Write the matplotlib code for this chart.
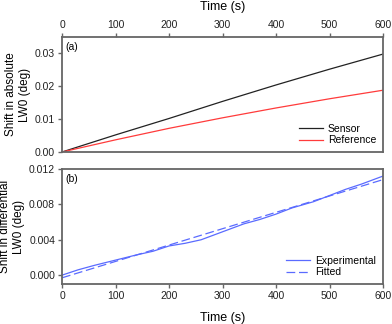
import matplotlib
matplotlib.use("Agg")
import matplotlib.pyplot as plt

plt.rcParams['font.family'] = ['Liberation Sans', 'DejaVu Sans']

# Panel (a)
t_a = [0, 100, 200, 300, 400, 500, 600]
sensor = [0.0, 0.0052, 0.0102, 0.0154, 0.0204, 0.0252, 0.0298]
reference = [0.0, 0.0037, 0.0072, 0.0104, 0.0134, 0.0162, 0.0188]

# Panel (b)
t_exp = [0, 30, 60, 100, 140, 170, 200, 230, 260, 300, 340, 370, 400, 430, 470, 500, 530, 560, 600]
experimental = [0.0000, 0.0006, 0.0011, 0.0017, 0.0023, 0.0027, 0.0033, 0.0036, 0.0040,
                0.0049, 0.0058, 0.0063, 0.0069, 0.0076, 0.0083, 0.0090, 0.0097, 0.0103, 0.0112]
t_fit = [0, 600]
fitted = [-0.0003, 0.0108]

xticks = [0, 100, 200, 300, 400, 500, 600]
yticks_a = [0.00, 0.01, 0.02, 0.03]
yticks_b = [0.000, 0.004, 0.008, 0.012]

W, H = 392, 324
fig = plt.figure(figsize=(W / 100, H / 100), dpi=100)
L, R = 62, 383
ax1 = fig.add_axes([L / W, 1 - 152 / H, (R - L) / W, (152 - 37) / H])
ax2 = fig.add_axes([L / W, 1 - 284 / H, (R - L) / W, (284 - 169) / H])

spine_c = '#666666'
tick_fs = 7.5
lab_fs = 8.5

for ax in (ax1, ax2):
    for s in ax.spines.values():
        s.set_color(spine_c)
        s.set_linewidth(1.3)
    ax.tick_params(colors=spine_c, labelcolor='#222222', labelsize=tick_fs, width=1,
                   length=3, pad=2)
    ax.set_xlim(0, 600)
    ax.set_xticks(xticks)

ax1.plot(t_a, sensor, color='#222222', lw=0.9, label='Sensor')
ax1.plot(t_a, reference, color='#ff3b3b', lw=0.9, label='Reference')
ax1.set_ylim(0, 0.035)
ax1.set_yticks(yticks_a)
ax1.set_yticklabels(['0.00', '0.01', '0.02', '0.03'])
ax1.xaxis.tick_top()
ax1.xaxis.set_label_position('top')
ax1.set_xlabel('Time (s)', fontsize=lab_fs + 0.5, labelpad=7)
ax1.set_ylabel('Shift in absolute\nLW0 (deg)', fontsize=lab_fs, labelpad=3)
ax1.text(0.012, 0.96, '(a)', transform=ax1.transAxes, fontsize=tick_fs, va='top', ha='left')
ax1.legend(loc='lower right', frameon=False, fontsize=tick_fs, handlelength=2.3,
           handletextpad=0.5, labelspacing=0.15, borderaxespad=0.25)

ax2.plot(t_exp, experimental, color='#5a6bff', lw=0.9, label='Experimental')
ax2.plot(t_fit, fitted, color='#5a6bff', lw=0.9, ls=(0, (7, 3)), label='Fitted')
ax2.set_ylim(-0.001, 0.012)
ax2.set_yticks(yticks_b)
ax2.set_yticklabels(['0.000', '0.004', '0.008', '0.012'])
ax2.set_xlabel('Time (s)', fontsize=lab_fs + 0.5, labelpad=8)
ax2.set_ylabel('Shift in differential\nLW0 (deg)', fontsize=lab_fs, labelpad=3)
ax2.text(0.012, 0.96, '(b)', transform=ax2.transAxes, fontsize=tick_fs, va='top', ha='left')
ax2.legend(loc='lower right', frameon=False, fontsize=tick_fs, handlelength=2.3,
           handletextpad=0.5, labelspacing=0.15, borderaxespad=0.25)

fig.savefig('out.png', dpi=100)
